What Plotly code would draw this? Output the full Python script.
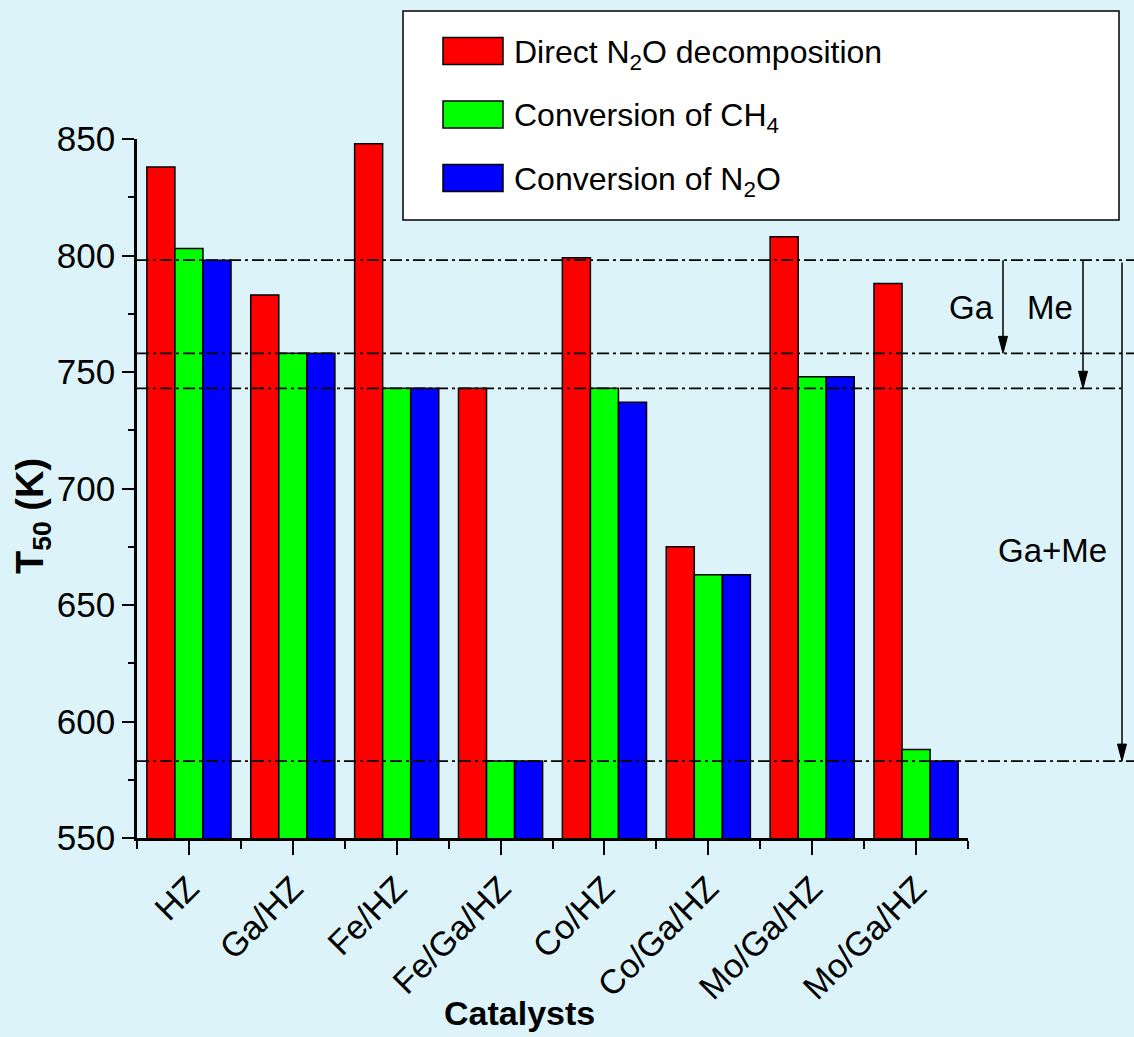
import plotly.graph_objects as go

# T50 values (K) for each catalyst
catalysts = ["HZ", "Ga/HZ", "Fe/HZ", "Fe/Ga/HZ", "Co/HZ", "Co/Ga/HZ", "Mo/Ga/HZ", "Mo/Ga/HZ"]
direct_n2o = [838, 783, 848, 743, 799, 675, 808, 788]
conv_ch4 = [803, 758, 743, 583, 743, 663, 748, 588]
conv_n2o = [798, 758, 743, 583, 737, 663, 748, 583]

# reference levels marked with dash-dot lines
level_hz = 798
level_ga = 758
level_me = 743
level_game = 583

series_names = ["Direct N<sub>2</sub>O decomposition", "Conversion of CH<sub>4</sub>",
                "Conversion of N<sub>2</sub>O"]
series_colors = ["#ff0000", "#00ff00", "#0000ff"]

W, H = 1134, 1037
ML, MR, MT, MB = 137, 166, 139, 199
PW, PH = W - ML - MR, H - MT - MB
BG = "#dcf4f9"
FONT = "Liberation Sans, Arial, sans-serif"
Y_PER_PX = 300 / PH


def px_x(p):
    return (p - ML) / PW


def px_y(p):
    return (H - MB - p) / PH


xs = list(range(len(catalysts)))
fig = go.Figure()
for name, vals, col in zip(series_names, [direct_n2o, conv_ch4, conv_n2o], series_colors):
    fig.add_bar(x=xs, y=vals, name=name, marker=dict(color=col, line=dict(color="black", width=1.5)),
                showlegend=False)

fig.update_layout(
    width=W, height=H,
    margin=dict(l=ML, r=MR, t=MT, b=MB, pad=0),
    paper_bgcolor=BG, plot_bgcolor=BG,
    barmode="group", bargap=0.19, bargroupgap=0,
    font=dict(family=FONT, color="black"),
)
fig.update_xaxes(
    range=[-0.5, 7.5], tickvals=xs, ticktext=catalysts, tickangle=-45,
    tickfont=dict(size=34, family=FONT), showgrid=False, zeroline=False,
    showline=True, linecolor="black", linewidth=2.5,
    ticks="outside", ticklen=14, tickwidth=2, tickcolor="black",
    minor=dict(tickvals=[i - 0.5 for i in range(len(catalysts) + 1)], ticks="outside",
               ticklen=8, tickwidth=2, tickcolor="black", showgrid=False),
)
fig.update_yaxes(
    range=[550, 850], tickvals=[550, 600, 650, 700, 750, 800, 850],
    tickfont=dict(size=35, family=FONT), showgrid=False, zeroline=False,
    showline=True, linecolor="black", linewidth=2.5,
    ticks="outside", ticklen=12, tickwidth=2, tickcolor="black",
    minor=dict(dtick=25, tick0=550, ticks="outside", ticklen=6, tickwidth=2,
               tickcolor="black", showgrid=False),
)

# axis titles
fig.add_annotation(text="<b>T<sub>50</sub> (K)</b>", xref="paper", yref="paper",
                   x=px_x(33), y=px_y(516), textangle=-90, showarrow=False,
                   font=dict(size=38, family=FONT), xanchor="center", yanchor="middle")
fig.add_annotation(text="<b>Catalysts</b>", xref="paper", yref="paper",
                   x=px_x(519), y=px_y(1013), showarrow=False,
                   font=dict(size=34, family=FONT), xanchor="center", yanchor="middle")

# dash-dot reference lines
dash = "12px,4px,3px,4px"
for lvl, xend in [(level_hz, 1140), (level_ga, 1140), (level_me, 1122), (level_game, 1140)]:
    fig.add_shape(type="line", xref="paper", yref="y", x0=px_x(ML), x1=px_x(xend),
                  y0=lvl, y1=lvl, line=dict(color="black", width=1.7, dash=dash), layer="above")

# arrows showing the drop in T50
head_len = 17 * Y_PER_PX
head_half = 4.5 / PW
for xp, tip, start in [(1003, level_ga, level_hz), (1083, level_me, level_hz),
                       (1122, level_game, level_hz - 1)]:
    xa = px_x(xp)
    fig.add_shape(type="line", xref="paper", yref="y", x0=xa, x1=xa, y0=start, y1=tip + head_len,
                  line=dict(color="black", width=1.5), layer="above")
    fig.add_shape(type="path", xref="paper", yref="y",
                  path=f"M {xa},{tip} L {xa - head_half},{tip + head_len} "
                       f"L {xa + head_half},{tip + head_len} Z",
                  fillcolor="black", line=dict(color="black", width=1), layer="above")

for txt, xp, yp in [("Ga", 972, 307), ("Me", 1050, 307), ("Ga+Me", 1052, 550)]:
    fig.add_annotation(text=txt, xref="paper", yref="paper", x=px_x(xp), y=px_y(yp),
                       showarrow=False, font=dict(size=33, family=FONT),
                       xanchor="center", yanchor="middle")

# legend box
fig.add_shape(type="rect", xref="paper", yref="paper", x0=px_x(403), x1=px_x(1119),
              y0=px_y(220), y1=px_y(11), fillcolor="white", line=dict(color="black", width=1.5),
              layer="above")
for i, (name, col) in enumerate(zip(series_names, series_colors)):
    cy = 51 + i * 63.5
    fig.add_shape(type="rect", xref="paper", yref="paper", x0=px_x(443), x1=px_x(503),
                  y0=px_y(cy + 13.5), y1=px_y(cy - 13.5), fillcolor=col,
                  line=dict(color="black", width=1.5), layer="above")
    fig.add_annotation(text=name, xref="paper", yref="paper", x=px_x(512), y=px_y(cy + 3),
                       showarrow=False, font=dict(size=32, family=FONT),
                       xanchor="left", yanchor="middle")

fig.write_html("out.html")
